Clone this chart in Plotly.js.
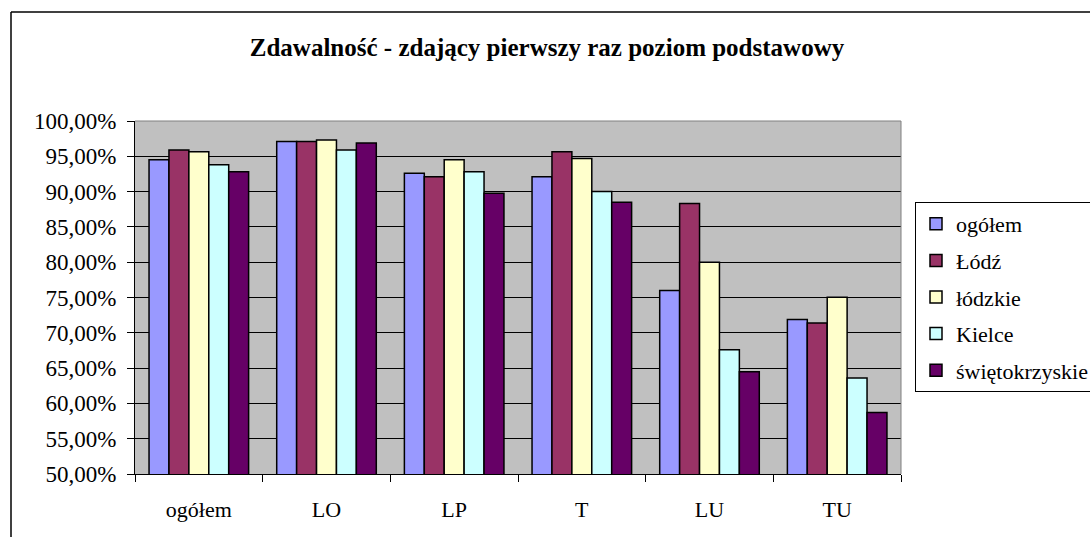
<!DOCTYPE html>
<html>
<head>
<meta charset="utf-8">
<script src="https://cdn.plot.ly/plotly-3.0.1.min.js"></script>
<style>
html,body{margin:0;padding:0;background:#fff;}
#chart{width:1090px;height:537px;}
</style>
</head>
<body>
<div id="chart"></div>
<script>
const categories = ["ogółem", "LO", "LP", "T", "LU", "TU"];
const seriesNames = ["ogółem", "Łódź", "łódzkie", "Kielce", "świętokrzyskie"];
const ogolem = [94.5, 97.1, 92.6, 92.1, 76.0, 71.9];
const lodz = [95.9, 97.1, 92.1, 95.65, 88.3, 71.4];
const lodzkie = [95.65, 97.3, 94.5, 94.7, 80.0, 75.05];
const kielce = [93.8, 95.9, 92.8, 90.0, 67.6, 63.6];
const swietokrzyskie = [92.8, 96.9, 89.75, 88.5, 64.5, 58.7];
const yTicks = [50, 55, 60, 65, 70, 75, 80, 85, 90, 95, 100];
const yTickLabels = ["50,00%", "55,00%", "60,00%", "65,00%", "70,00%", "75,00%", "80,00%", "85,00%", "90,00%", "95,00%", "100,00%"];
const colors = ["#9999FF", "#993366", "#FFFFCC", "#CCFFFF", "#660066"];

const seriesValues = [ogolem, lodz, lodzkie, kielce, swietokrzyskie];
const font = "Liberation Serif, Times New Roman, serif";

const traces = seriesValues.map((vals, i) => ({
  type: "bar",
  name: seriesNames[i],
  x: categories,
  y: vals,
  legendgroup: "g" + i,
  marker: {color: colors[i], line: {color: "#000", width: 1.5}},
  hoverinfo: "x+y+name"
}));

const ml = 135, mr = 189, mt = 121, mb = 63;
const pw = 1090 - ml - mr, ph = 537 - mt - mb;
const px = v => (v - ml) / pw;
const py = v => 1 - (v - mt) / ph;

const layout = {
  width: 1090, height: 537,
  margin: {l: ml, r: mr, t: mt, b: mb, autoexpand: false},
  paper_bgcolor: "#fff",
  plot_bgcolor: "#C0C0C0",
  font: {family: font, size: 22, color: "#000"},
  title: {
    text: "<b>Zdawalność - zdający pierwszy raz poziom podstawowy</b>",
    font: {family: font, size: 25, color: "#000"},
    x: 547 / 1090, xref: "container", xanchor: "center",
    y: 1 - 47 / 537, yref: "container", yanchor: "middle"
  },
  barmode: "group",
  bargap: 0.22,
  bargroupgap: 0,
  xaxis: {
    type: "category",
    showline: true, linecolor: "#000", linewidth: 1,
    ticks: "outside", tickson: "boundaries", ticklen: 7, tickcolor: "#000", tickwidth: 1,
    ticklabelstandoff: 16,
    tickfont: {family: font, size: 22, color: "#000"},
    showgrid: false, zeroline: false, fixedrange: true
  },
  yaxis: {
    range: [50, 100],
    tickmode: "array",
    tickvals: yTicks,
    ticktext: yTickLabels,
    showline: true, linecolor: "#000", linewidth: 1,
    ticks: "outside", ticklen: 7, tickcolor: "#000", tickwidth: 1,
    ticklabelstandoff: 6,
    showgrid: true, gridcolor: "#000", gridwidth: 1,
    zeroline: false,
    tickfont: {family: font, size: 23, color: "#000"},
    fixedrange: true
  },
  legend: {
    x: px(915), y: py(202), xanchor: "left", yanchor: "top",
    bgcolor: "#fff", bordercolor: "#000", borderwidth: 1,
    font: {family: font, size: 22, color: "#000"},
    traceorder: "grouped", tracegroupgap: 5
  },
  shapes: [
    {type: "line", xref: "paper", yref: "paper", x0: 0, x1: 1, y0: 1, y1: 1, line: {color: "#808080", width: 1}},
    {type: "line", xref: "paper", yref: "paper", x0: 1, x1: 1, y0: 0, y1: 1, line: {color: "#808080", width: 1}},
    {type: "line", xref: "paper", yref: "paper", x0: px(11), x1: px(11), y0: py(12), y1: py(560), line: {color: "#000", width: 1.5}},
    {type: "line", xref: "paper", yref: "paper", x0: px(11), x1: px(1110), y0: py(12), y1: py(12), line: {color: "#000", width: 1.5}}
  ]
};

Plotly.newPlot("chart", traces, layout, {displayModeBar: false, staticPlot: true});
</script>
</body>
</html>
